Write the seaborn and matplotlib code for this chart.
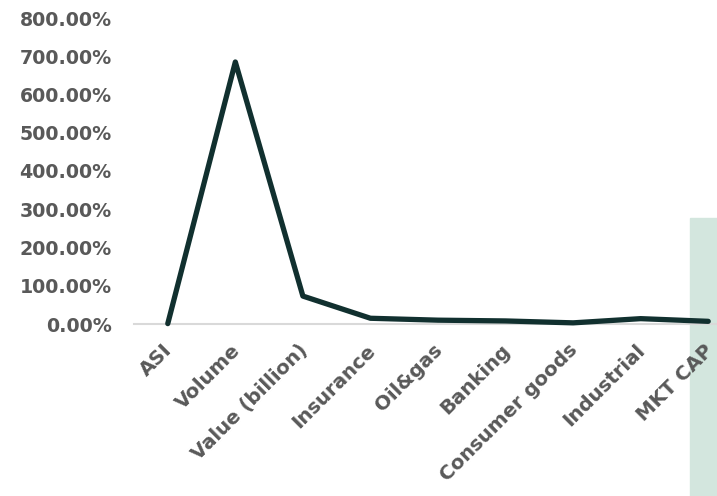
import matplotlib
matplotlib.use("Agg")
import matplotlib.pyplot as plt
import matplotlib.transforms as mtransforms
import seaborn as sns
from matplotlib.ticker import PercentFormatter, MultipleLocator
from matplotlib.patches import Rectangle

categories = ["ASI", "Volume", "Value (billion)", "Insurance", "Oil&gas",
              "Banking", "Consumer goods", "Industrial", "MKT CAP"]
changes = [0.01, 6.85, 0.73, 0.15, 0.10, 0.08, 0.03, 0.14, 0.07]

sns.set_style("white")
plt.rcParams["font.family"] = ["DejaVu Sans"]

fig = plt.figure(figsize=(7.17, 4.96), dpi=100)
# light green panel at the right edge, behind the chart
fig.patches.append(Rectangle((690 / 717, 0), 27 / 717, (496 - 218) / 496,
                             transform=fig.transFigure, color="#d3e6de", zorder=-5))
ax = fig.add_axes([134 / 717, 1 - 324 / 496, 1 - 134 / 717, (324 - 18) / 496])
ax.set_facecolor("none")
ax.set_zorder(2)

sns.lineplot(x=categories, y=changes, sort=False, ax=ax, color="#11302f",
             linewidth=3.8, solid_capstyle="round", solid_joinstyle="round",
             clip_on=False, zorder=3)

ax.set_ylim(0, 8)
ax.set_xlim(-0.5, 8.13)
ax.yaxis.set_major_locator(MultipleLocator(1))
ax.yaxis.set_major_formatter(PercentFormatter(xmax=1, decimals=2))
for s in ["top", "right", "left"]:
    ax.spines[s].set_visible(False)
ax.spines["bottom"].set_color("#d9d9d9")
ax.spines["bottom"].set_linewidth(1.5)
ax.tick_params(axis="both", length=0, labelcolor="#595959")
ax.tick_params(axis="y", pad=16, labelsize=13.7)
ax.tick_params(axis="x", pad=12, labelsize=14.2)
plt.setp(ax.get_yticklabels(), fontweight="bold")
plt.setp(ax.get_xticklabels(), rotation=45, ha="right", rotation_mode="anchor",
         fontweight="bold")
# nudge the rotated labels a little to the left
offset = mtransforms.ScaledTranslation(-5 / 100, 0, fig.dpi_scale_trans)
for lab in ax.get_xticklabels():
    lab.set_transform(lab.get_transform() + offset)
ax.set_xlabel("")
ax.set_ylabel("")

fig.savefig("out.png", dpi=100)
